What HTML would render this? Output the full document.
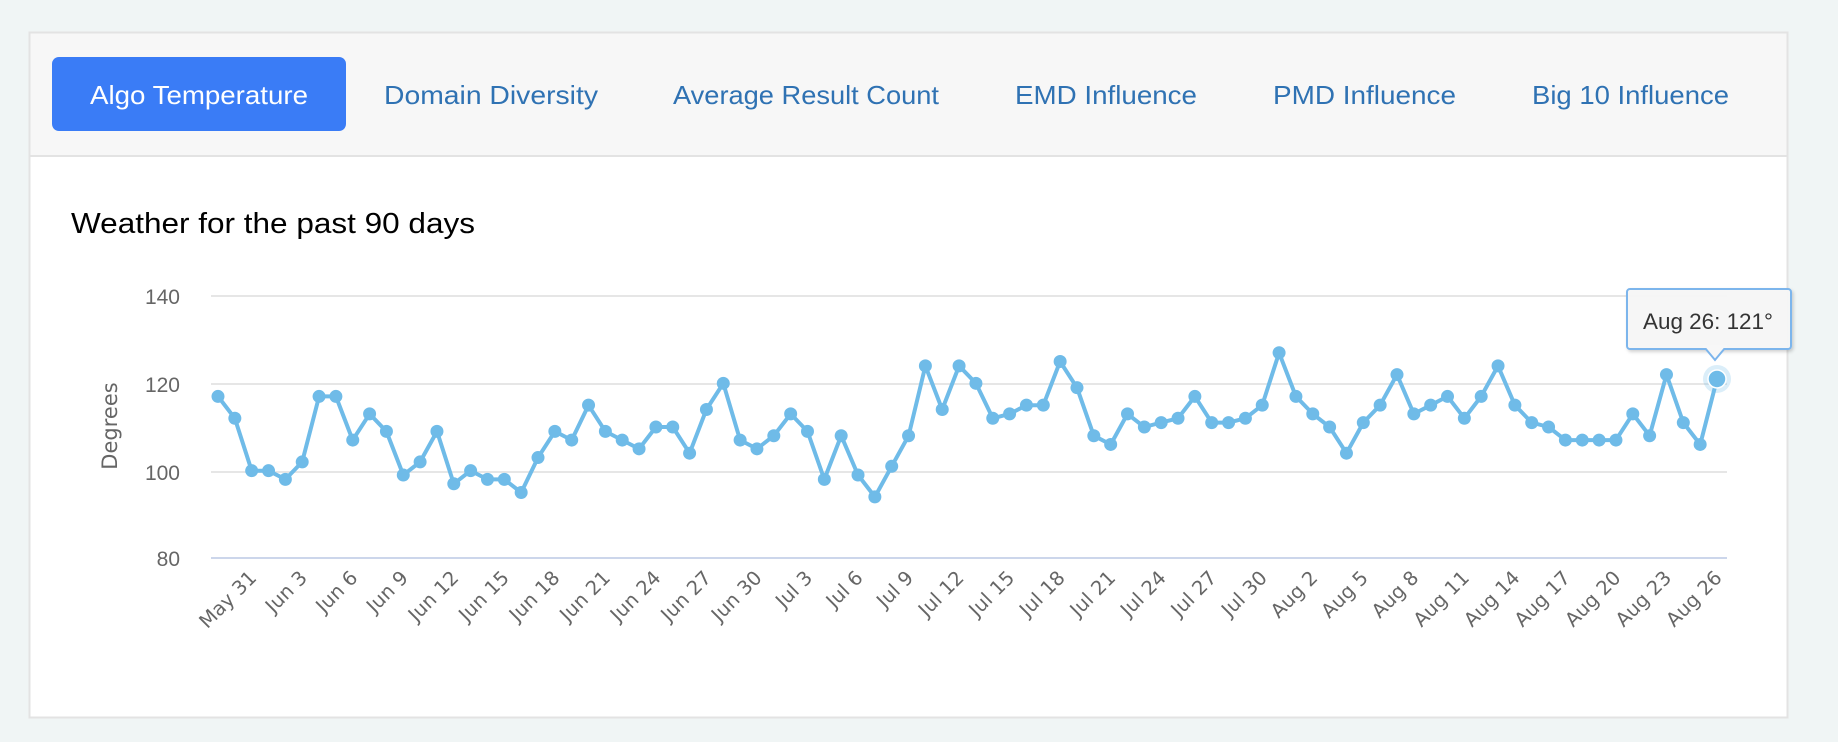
<!DOCTYPE html>
<html><head><meta charset="utf-8"><style>
html,body{margin:0;padding:0;background:#f0f5f5;}
body{width:1838px;height:742px;position:relative;overflow:hidden;font-family:"Liberation Sans",sans-serif;}
</style></head><body>
<svg width="1838" height="742" viewBox="0 0 1838 742" xmlns="http://www.w3.org/2000/svg" style="position:absolute;left:0;top:0">
<defs>
<filter id="sh" x="-20%" y="-20%" width="150%" height="160%"><feDropShadow dx="1.5" dy="2" stdDeviation="1.5" flood-color="#000" flood-opacity="0.18"/></filter>
</defs>
<rect x="0" y="0" width="1838" height="742" fill="#f0f5f5"/>
<rect x="29.5" y="32.5" width="1758" height="685" fill="#fff" stroke="#e3e3e3" stroke-width="2"/>
<rect x="30.5" y="33.5" width="1756" height="122" fill="#f7f7f7"/>
<line x1="30" y1="156" x2="1788" y2="156" stroke="#e3e3e3" stroke-width="2"/>
<rect x="52" y="57" width="294" height="74" rx="7" fill="#3a7cf6"/>
<g font-size="26" font-family="Liberation Sans, sans-serif" lengthAdjust="spacingAndGlyphs">
<text x="90" y="104" fill="#fff" textLength="218" lengthAdjust="spacingAndGlyphs">Algo Temperature</text>
<text x="384" y="104" fill="#2f72b3" textLength="214" lengthAdjust="spacingAndGlyphs">Domain Diversity</text>
<text x="673" y="104" fill="#2f72b3" textLength="266" lengthAdjust="spacingAndGlyphs">Average Result Count</text>
<text x="1015" y="104" fill="#2f72b3" textLength="182" lengthAdjust="spacingAndGlyphs">EMD Influence</text>
<text x="1273" y="104" fill="#2f72b3" textLength="183" lengthAdjust="spacingAndGlyphs">PMD Influence</text>
<text x="1532" y="104" fill="#2f72b3" textLength="197" lengthAdjust="spacingAndGlyphs">Big 10 Influence</text>
</g>
<text x="71" y="233" font-size="29" fill="#000" textLength="404" lengthAdjust="spacingAndGlyphs">Weather for the past 90 days</text>
<g stroke="#e6e6e6" stroke-width="2">
<line x1="211" y1="296" x2="1727" y2="296"/>
<line x1="211" y1="384" x2="1727" y2="384"/>
<line x1="211" y1="472" x2="1727" y2="472"/>
</g>
<line x1="211" y1="558" x2="1727" y2="558" stroke="#ccd6eb" stroke-width="2"/>
<g font-size="21" fill="#666" text-anchor="end">
<text x="180" y="304">140</text>
<text x="180" y="392">120</text>
<text x="180" y="480">100</text>
<text x="180" y="566">80</text>
</g>
<text transform="translate(117,426) rotate(-90)" font-size="21" fill="#666" text-anchor="middle" font-family="DejaVu Sans, sans-serif">Degrees</text>
<g id="chart"></g>
<rect x="1627" y="289" width="164" height="60" rx="3" fill="#f7f7f7" fill-opacity="0.95" stroke="#7cb5ec" stroke-width="2" filter="url(#sh)"/>
<path d="M1705,348 L1715,360 L1725,348" fill="#f7f7f7" stroke="#7cb5ec" stroke-width="2"/>
<rect x="1703" y="345" width="24" height="3" fill="#f7f7f7"/>
<text x="1643" y="329" font-size="22" fill="#333" textLength="130" lengthAdjust="spacingAndGlyphs">Aug 26: 121°</text>
</svg>
<script>
var v=[117,112,100,100,98,102,117,117,107,113,109,99,102,109,97,100,98,98,95,103,109,107,115,109,107,105,110,110,104,114,120,107,105,108,113,109,98,108,99,94,101,108,124,114,124,120,112,113,115,115,125,119,108,106,113,110,111,112,117,111,111,112,115,127,117,113,110,104,111,115,122,113,115,117,112,117,124,115,111,110,107,107,107,107,113,108,122,111,106,121];
var ns="http://www.w3.org/2000/svg",g=document.getElementById("chart");
function X(i){return 218+i*1499/89;}function Y(t){return 558-(t-80)*4.367;}
var d="";for(var i=0;i<v.length;i++)d+=(i?"L":"M")+X(i).toFixed(1)+","+Y(v[i]).toFixed(1);
var p=document.createElementNS(ns,"path");p.setAttribute("d",d);p.setAttribute("fill","none");p.setAttribute("stroke","#6fbbe8");p.setAttribute("stroke-width","4");p.setAttribute("stroke-linejoin","round");g.appendChild(p);
for(i=0;i<v.length-1;i++){var c=document.createElementNS(ns,"circle");c.setAttribute("cx",X(i));c.setAttribute("cy",Y(v[i]));c.setAttribute("r","6.5");c.setAttribute("fill","#6fbbe8");g.appendChild(c);}
var h=document.createElementNS(ns,"circle");h.setAttribute("cx",X(89));h.setAttribute("cy",Y(121));h.setAttribute("r","14");h.setAttribute("fill","#6fbbe8");h.setAttribute("fill-opacity","0.25");g.appendChild(h);
h=document.createElementNS(ns,"circle");h.setAttribute("cx",X(89));h.setAttribute("cy",Y(121));h.setAttribute("r","9");h.setAttribute("fill","#6fbbe8");h.setAttribute("stroke","#fff");h.setAttribute("stroke-width","1.5");g.appendChild(h);
var m=["May","Jun","Jul","Aug"],ml=[31,30,31,31];
for(i=2;i<90;i+=3){var day=29+i,mi=0;while(day>ml[mi]){day-=ml[mi];mi++;}
var t=document.createElementNS(ns,"text");var x=X(i)+6,y=579;t.setAttribute("transform","translate("+x+","+y+") rotate(-45)");t.setAttribute("text-anchor","end");t.setAttribute("font-size","19.5");t.setAttribute("fill","#666");t.setAttribute("font-family","DejaVu Sans, sans-serif");t.textContent=m[mi]+" "+day;g.appendChild(t);}
</script>
</body></html>
